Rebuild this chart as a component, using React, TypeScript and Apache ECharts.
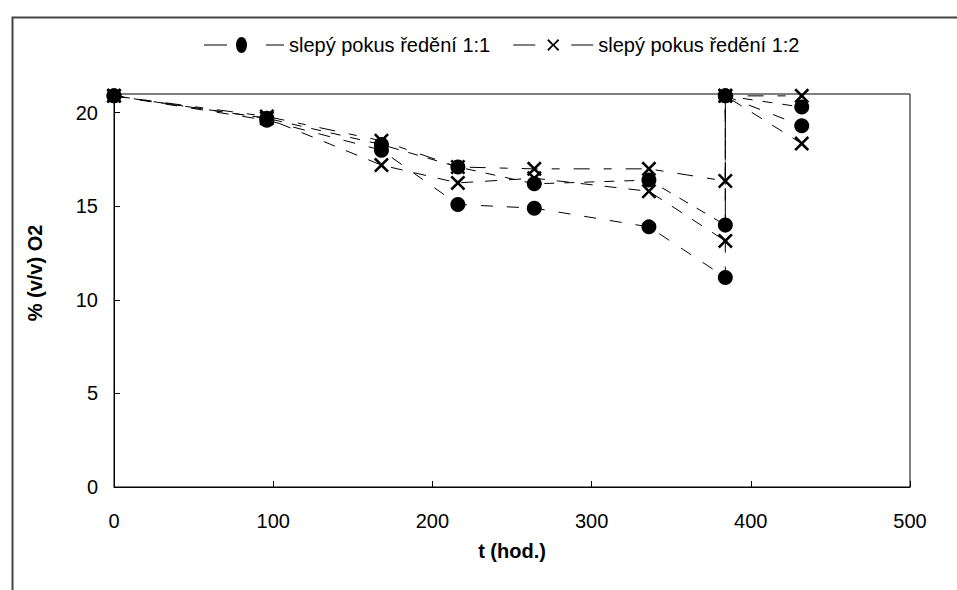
import React, { useEffect, useRef } from 'react';
import * as echarts from 'echarts';

// time (hours) – two readings at 384 h (before / after re-aeration)
const tHours = [0, 96, 168, 216, 264, 336, 384, 384, 432];
// slepý pokus ředění 1:1 (two replicates)
const dil11a = [20.9, 19.6, 18.0, 15.1, 14.9, 13.9, 11.2, 20.9, 19.3];
const dil11b = [20.9, 19.7, 18.3, 17.1, 16.2, 16.4, 14.0, 20.9, 20.3];
// slepý pokus ředění 1:2 (two replicates)
const dil12a = [20.9, 19.8, 18.5, 17.1, 17.0, 17.0, 16.35, 20.9, 20.9];
const dil12b = [20.9, 19.7, 17.2, 16.25, 16.5, 15.8, 13.15, 20.9, 18.35];

const name11 = 'slepý pokus ředění 1:1';
const name12 = 'slepý pokus ředění 1:2';
const xTicks = [0, 100, 200, 300, 400, 500];
const yTicks = [0, 5, 10, 15, 20];

const FONT = '"Liberation Sans", Arial, Helvetica, sans-serif';
const CROSS = 'path://M0,1.2 L1.2,0 L5,3.8 L8.8,0 L10,1.2 L6.2,5 L10,8.8 L8.8,10 L5,6.2 L1.2,10 L0,8.8 L3.8,5 Z';
const LEGEND_DOT = 'path://M0,7.5 H23 V8.5 H0 Z M32,8 A5.5,8 0 1 0 43,8 A5.5,8 0 1 0 32,8 Z M62,7.5 H80 V8.5 H62 Z';
const LEGEND_CROSS = 'path://M0,7.5 H22 V8.5 H0 Z M34,3.5 L35.3,2 L40,7.1 L44.7,2 L46,3.5 L41.3,8 L46,12.5 L44.7,14 L40,8.9 L35.3,14 L34,12.5 L38.7,8 Z M58,7.5 H80 V8.5 H58 Z M79,0 H80 V0.01 H79 Z M79,15.99 H80 V16 H79 Z';

const pairs = (ys: number[]) => tHours.map((t, i) => [t, ys[i]]);

export default function App() {
  const ref = useRef<HTMLDivElement>(null);
  useEffect(() => {
    if (!ref.current) return;
    const chart = echarts.init(ref.current, undefined, { renderer: 'svg' });
    const mk = (name: string, ys: number[], symbol: string, dash: number[]) => ({
      type: 'line',
      name,
      data: pairs(ys),
      symbol,
      symbolSize: 15,
      showSymbol: true,
      clip: false,
      itemStyle: { color: '#000', borderWidth: 0 },
      lineStyle: { color: '#000', width: 1, type: dash },
      emphasis: { disabled: true },
    });
    chart.setOption({
      animation: false,
      backgroundColor: '#fff',
      textStyle: { fontFamily: FONT },
      grid: {
        left: 114,
        top: 94,
        right: 47,
        bottom: 103,
        show: true,
        borderColor: '#000',
        borderWidth: 1,
        backgroundColor: 'transparent',
      },
      legend: {
        left: 199,
        top: 30,
        itemWidth: 80,
        itemHeight: 16,
        itemGap: 23,
        selectedMode: false,
        textStyle: { fontSize: 20, color: '#000', fontFamily: FONT },
        data: [
          { name: name11, icon: LEGEND_DOT },
          { name: name12, icon: LEGEND_CROSS },
        ],
      },
      xAxis: {
        type: 'value',
        min: xTicks[0],
        max: xTicks[xTicks.length - 1],
        interval: 100,
        name: 't (hod.)',
        nameLocation: 'middle',
        nameGap: 54,
        nameTextStyle: { fontSize: 20, fontWeight: 'bold', color: '#000', fontFamily: FONT },
        axisLine: { lineStyle: { color: '#000', width: 1 } },
        axisTick: { inside: true, length: 6, lineStyle: { color: '#000' } },
        axisLabel: { fontSize: 20, color: '#000', margin: 24, fontFamily: FONT },
        splitLine: { show: false },
      },
      yAxis: {
        type: 'value',
        min: yTicks[0],
        max: 21,
        interval: 5,
        axisLine: { show: true, lineStyle: { color: '#000', width: 1 } },
        axisTick: { show: true, inside: true, length: 6, lineStyle: { color: '#000' } },
        axisLabel: { fontSize: 20, color: '#000', margin: 16, showMaxLabel: false, fontFamily: FONT },
        splitLine: { show: false },
      },
      graphic: [
        {
          type: 'rect',
          left: 10,
          top: 15,
          shape: { x: 0, y: 0, width: 2000, height: 2000 },
          style: { fill: 'none', stroke: '#444', lineWidth: 2 },
          silent: true,
          z: -10,
        },
        {
          type: 'text',
          x: 35,
          y: 273,
          rotation: Math.PI / 2,
          style: {
            text: '% (v/v) O2',
            fontSize: 20,
            fontWeight: 'bold',
            fontFamily: FONT,
            fill: '#000',
            align: 'center',
            verticalAlign: 'middle',
          },
        },
      ],
      series: [
        mk(name11, dil11a, 'circle', [12, 14]),
        mk(name11, dil11b, 'circle', [10, 10]),
        mk(name12, dil12a, CROSS, [16, 14, 8, 14]),
        mk(name12, dil12b, CROSS, [12, 12]),
      ],
    });
    return () => chart.dispose();
  }, []);
  return <div ref={ref} style={{ position: 'fixed', left: 0, top: 0, width: 957, height: 590 }} />;
}
